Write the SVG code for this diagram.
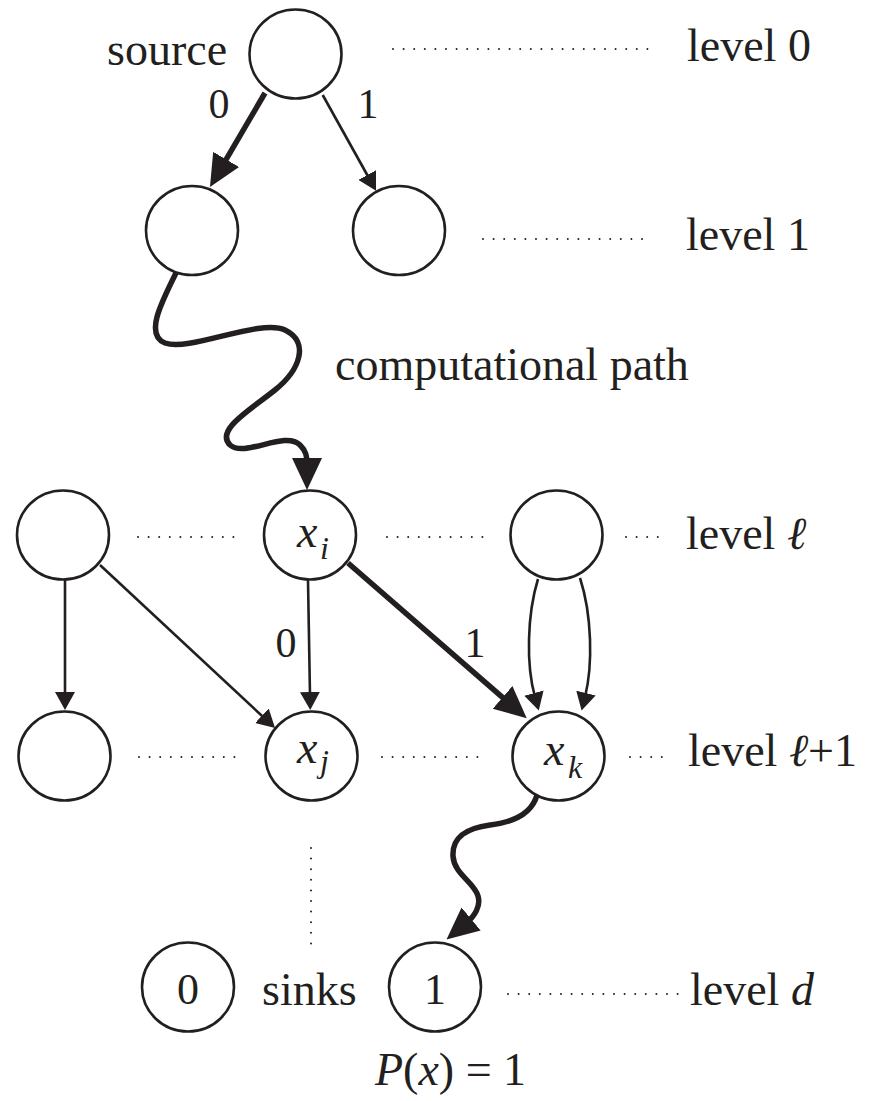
<svg xmlns="http://www.w3.org/2000/svg" width="871" height="1101" viewBox="0 0 871 1101">
<style>
.n{fill:#fff;stroke:#231f20;stroke-width:2.6}
text{font-family:'Liberation Serif','Tinos','Times New Roman','DejaVu Serif','Noto Serif',serif;fill:#231f20}
.t{font-size:46px}
.e{font-size:42px;text-anchor:middle}
.i{font-style:italic}
.thin{fill:none;stroke:#231f20;stroke-width:2.6;marker-end:url(#ah)}
.bold{fill:none;stroke:#231f20;stroke-width:5.5;marker-end:url(#ahb)}
.dot{fill:none;stroke:#231f20;stroke-width:2;stroke-linecap:round;stroke-dasharray:0 10.6}
</style>
<defs>
<marker id="ah" markerUnits="userSpaceOnUse" viewBox="0 0 18 20" markerWidth="18" markerHeight="20" refX="4" refY="10" orient="auto"><path d="M0,0 L18,10 L0,20 Z" fill="#231f20"/></marker>
<marker id="ahb" markerUnits="userSpaceOnUse" viewBox="0 0 32 32" markerWidth="32" markerHeight="32" refX="6" refY="16" orient="auto"><path d="M0,1 L32,16 L0,31 Z" fill="#231f20"/></marker>
</defs>
<rect width="871" height="1101" fill="#fff"/>
<g id="levels">
<path class="dot" d="M393,49 H652"/>
<path class="dot" d="M483,239 H652"/>
<path class="dot" d="M138,537 H236"/>
<path class="dot" d="M387,537 H485"/>
<path class="dot" d="M626,537 H664"/>
<path class="dot" d="M139,757 H237"/>
<path class="dot" d="M382,757 H480"/>
<path class="dot" d="M630,757 H662"/>
<path class="dot" d="M508,994 H681"/>
<path class="dot" d="M311,848 V944"/>
<text class="t" x="687" y="61">level 0</text>
<text class="t" x="686" y="250">level 1</text>
<text class="t" x="686" y="549">level <tspan class="i">ℓ</tspan></text>
<text class="t" x="688" y="766">level  <tspan class="i">ℓ</tspan>+1</text>
<text class="t" x="690" y="1005">level <tspan class="i">d</tspan></text>
<text class="t" x="107" y="65">source</text>
<text class="t" x="335" y="380">computational path</text>
<text class="t" x="262" y="1005">sinks</text>
<text class="t" x="375" y="1085"><tspan class="i">P</tspan>(<tspan class="i">x</tspan>) = 1</text>
</g>
<g id="connectors">
<path class="bold" d="M265,93 L223.1,164.6"/>
<path class="thin" d="M322.7,95 L369.2,178.5"/>
<path class="bold" d="M176,273 C160,305 145,335 165,343 C190,352 260,318 285,330 C310,342 300,370 275,390 C250,410 215,430 230,445 C245,458 285,430 300,445 C306,451 307,456 307,464"/>
<path class="thin" d="M308,580 L310,696"/>
<path class="thin" d="M65,580 L65,696"/>
<path class="thin" d="M100,565 L264.8,718.5"/>
<path class="bold" d="M348,563 L507.1,701.3"/>
<path class="thin" d="M538,579 C527,615 526,665 535,697"/>
<path class="thin" d="M580,578 C592,615 593,665 585,697"/>
<path class="bold" d="M537,795 C532,813 515,822 490,825 C468,828 452,836 453,856 C454,874 474,882 478,896 C481,906 474.7,916 466.5,922.8"/>
<text class="e" x="219" y="118">0</text>
<text class="e" x="368" y="118">1</text>
<text class="e" x="286" y="657">0</text>
<text class="e" x="475" y="657">1</text>
</g>
<g id="n-source"><ellipse class="n" cx="295.5" cy="54" rx="46" ry="44.5"/></g>
<g id="n-l1a"><ellipse class="n" cx="192" cy="230.5" rx="46" ry="44.5"/></g>
<g id="n-l1b"><ellipse class="n" cx="399" cy="230.5" rx="46" ry="44.5"/></g>
<g id="n-la"><ellipse class="n" cx="63" cy="535" rx="46" ry="44.5"/></g>
<g id="n-xi"><ellipse class="n" cx="310" cy="535" rx="46" ry="44.5"/><text class="t i" x="297" y="547">x</text><text class="t i" x="320" y="559" style="font-size:32px">i</text></g>
<g id="n-lc"><ellipse class="n" cx="556.5" cy="535" rx="46" ry="44.5"/></g>
<g id="n-l2a"><ellipse class="n" cx="64.5" cy="756" rx="46" ry="44.5"/></g>
<g id="n-xj"><ellipse class="n" cx="311.5" cy="756" rx="46" ry="44.5"/><text class="t i" x="297" y="763">x</text><text class="t i" x="320" y="772" style="font-size:32px">j</text></g>
<g id="n-xk"><ellipse class="n" cx="558.5" cy="756" rx="46" ry="44.5"/><text class="t i" x="544" y="765">x</text><text class="t i" x="568" y="778" style="font-size:32px">k</text></g>
<g id="n-sink0"><ellipse class="n" cx="188" cy="987" rx="46" ry="44.5"/><text class="e" x="188" y="1004" style="font-size:44px">0</text></g>
<g id="n-sink1"><ellipse class="n" cx="435" cy="987" rx="46" ry="44.5"/><text class="e" x="435" y="1004" style="font-size:44px">1</text></g>
</svg>
